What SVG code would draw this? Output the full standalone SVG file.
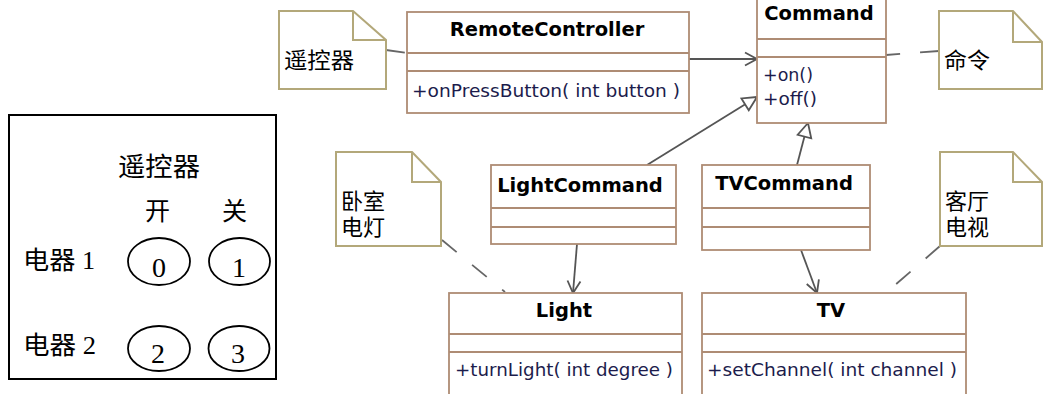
<svg xmlns="http://www.w3.org/2000/svg" width="1043" height="394" viewBox="0 0 1043 394">
<style>
.cls{fill:#ffffff;stroke:#ae8c74;stroke-width:1.8}
.div{stroke:#ae8c74;stroke-width:1.8;fill:none}
.note{fill:#ffffff;stroke:#b3a87a;stroke-width:2;stroke-linejoin:miter}
.fold{fill:none;stroke:#b3a87a;stroke-width:2}
.title{font-family:"DejaVu Sans",sans-serif;font-weight:bold;font-size:19.5px;fill:#000000;text-anchor:middle}
.meth{font-family:"DejaVu Sans",sans-serif;font-size:18.4px;fill:#1c1c4c}
.ntxt{font-family:"Noto Sans CJK SC",sans-serif;font-size:22px;fill:#000000}
.assoc{stroke:#555555;stroke-width:1.8;fill:none}
.dash{stroke:#666666;stroke-width:1.8;fill:none;stroke-dasharray:19 20}
.panel{font-family:"Liberation Serif","Noto Sans CJK SC",serif;fill:#000000}
.btn{fill:none;stroke:#000000;stroke-width:1.8}
</style>
<defs>
<marker id="open" markerUnits="userSpaceOnUse" viewBox="-15 -10 20 20" markerWidth="20" markerHeight="20" refX="0" refY="0" orient="auto" overflow="visible">
<path d="M-12,-6.5 L0,0 L-12,6.5" fill="none" stroke="#555555" stroke-width="1.8"/>
</marker>
<marker id="tri" markerUnits="userSpaceOnUse" viewBox="-15 -10 20 20" markerWidth="20" markerHeight="20" refX="0" refY="0" orient="auto" overflow="visible">
<path d="M0,0 L-14,-7 L-14,7 Z" fill="#ffffff" stroke="#555555" stroke-width="1.8"/>
</marker>
</defs>
<rect width="1043" height="394" fill="#ffffff"/>

<g id="connectors">
<line class="dash" x1="386" y1="50" x2="407" y2="53"/>
<line class="dash" x1="939" y1="51" x2="886" y2="55"/>
<line class="dash" x1="442" y1="240" x2="505" y2="292"/>
<line class="dash" x1="940" y1="246" x2="887" y2="292"/>
<line class="assoc" x1="689" y1="59" x2="757" y2="59" marker-end="url(#open)"/>
<line class="assoc" x1="577" y1="244" x2="573" y2="293" marker-end="url(#open)"/>
<line class="assoc" x1="801" y1="250" x2="817" y2="293" marker-end="url(#open)"/>
<line class="assoc" x1="647" y1="165" x2="757" y2="97" marker-end="url(#tri)"/>
<line class="assoc" x1="797" y1="165" x2="808" y2="123" marker-end="url(#tri)"/>
</g>

<g id="note-remote">
<path class="note" d="M279,11 H353 L386,40 V89 H279 Z"/>
<path class="fold" d="M353,11 V40 H386"/>
<text class="ntxt" x="284" y="68" textLength="70" lengthAdjust="spacingAndGlyphs">遥控器</text>
</g>

<g id="RemoteController">
<rect class="cls" x="407" y="12" width="282" height="101"/>
<line class="div" x1="407" y1="53" x2="689" y2="53"/>
<line class="div" x1="407" y1="71" x2="689" y2="71"/>
<text class="title" x="547" y="36">RemoteController</text>
<text class="meth" x="412" y="97" textLength="268" lengthAdjust="spacingAndGlyphs">+onPressButton( int button )</text>
</g>

<g id="Command">
<rect class="cls" x="757" y="-1" width="129" height="124"/>
<line class="div" x1="757" y1="39" x2="886" y2="39"/>
<line class="div" x1="757" y1="57" x2="886" y2="57"/>
<text class="title" x="819" y="20">Command</text>
<text class="meth" x="763" y="81" textLength="50" lengthAdjust="spacingAndGlyphs">+on()</text>
<text class="meth" x="763" y="105" textLength="54" lengthAdjust="spacingAndGlyphs">+off()</text>
</g>

<g id="note-command">
<path class="note" d="M939,11 H1013 L1042,42 V89 H939 Z"/>
<path class="fold" d="M1013,11 V42 H1042"/>
<text class="ntxt" x="944" y="68" textLength="46" lengthAdjust="spacingAndGlyphs">命令</text>
</g>

<g id="note-light">
<path class="note" d="M336,152 H412 L441,182 V246 H336 Z"/>
<path class="fold" d="M412,152 V182 H441"/>
<text class="ntxt"><tspan x="341" y="209">卧室</tspan><tspan x="341" y="235">电灯</tspan></text>
</g>

<g id="LightCommand">
<rect class="cls" x="491" y="165" width="185" height="79"/>
<line class="div" x1="491" y1="208" x2="676" y2="208"/>
<line class="div" x1="491" y1="227" x2="676" y2="227"/>
<text class="title" x="580" y="192">LightCommand</text>
</g>

<g id="TVCommand">
<rect class="cls" x="702" y="165" width="168" height="85"/>
<line class="div" x1="702" y1="208" x2="870" y2="208"/>
<line class="div" x1="702" y1="227" x2="870" y2="227"/>
<text class="title" x="784" y="190">TVCommand</text>
</g>

<g id="note-tv">
<path class="note" d="M940,152 H1013 L1042,182 V246 H940 Z"/>
<path class="fold" d="M1013,152 V182 H1042"/>
<text class="ntxt"><tspan x="945" y="209">客厅</tspan><tspan x="945" y="235">电视</tspan></text>
</g>

<g id="Light">
<rect class="cls" x="449" y="293" width="233" height="110"/>
<line class="div" x1="449" y1="334" x2="682" y2="334"/>
<line class="div" x1="449" y1="352" x2="682" y2="352"/>
<text class="title" x="564" y="317">Light</text>
<text class="meth" x="455" y="376" textLength="218" lengthAdjust="spacingAndGlyphs">+turnLight( int degree )</text>
</g>

<g id="TV">
<rect class="cls" x="702" y="293" width="264" height="110"/>
<line class="div" x1="702" y1="334" x2="966" y2="334"/>
<line class="div" x1="702" y1="352" x2="966" y2="352"/>
<text class="title" x="831" y="317">TV</text>
<text class="meth" x="707" y="376" textLength="250" lengthAdjust="spacingAndGlyphs">+setChannel( int channel )</text>
</g>

<g id="remote-panel">
<rect x="9" y="115" width="267" height="264" fill="#ffffff" stroke="#000000" stroke-width="2"/>
<text class="panel" x="118" y="176" font-size="26" textLength="82" lengthAdjust="spacingAndGlyphs">遥控器</text>
<text class="panel" x="157.5" y="220" font-size="25" text-anchor="middle">开</text>
<text class="panel" x="234.5" y="220" font-size="25" text-anchor="middle">关</text>
<text class="panel" x="23" y="269" font-size="25" textLength="72" lengthAdjust="spacingAndGlyphs">电器 1</text>
<text class="panel" x="23" y="354" font-size="25" textLength="73" lengthAdjust="spacingAndGlyphs">电器 2</text>
<ellipse class="btn" cx="159" cy="261.5" rx="31" ry="23.5"/>
<ellipse class="btn" cx="239.5" cy="261.5" rx="30.5" ry="23.5"/>
<ellipse class="btn" cx="159" cy="348.5" rx="31" ry="22.5"/>
<ellipse class="btn" cx="239" cy="348.5" rx="30.5" ry="22.5"/>
<text class="panel" x="159" y="277" font-size="28" text-anchor="middle">0</text>
<text class="panel" x="239" y="277" font-size="28" text-anchor="middle">1</text>
<text class="panel" x="158" y="363" font-size="28" text-anchor="middle">2</text>
<text class="panel" x="238" y="363" font-size="28" text-anchor="middle">3</text>
</g>
</svg>
